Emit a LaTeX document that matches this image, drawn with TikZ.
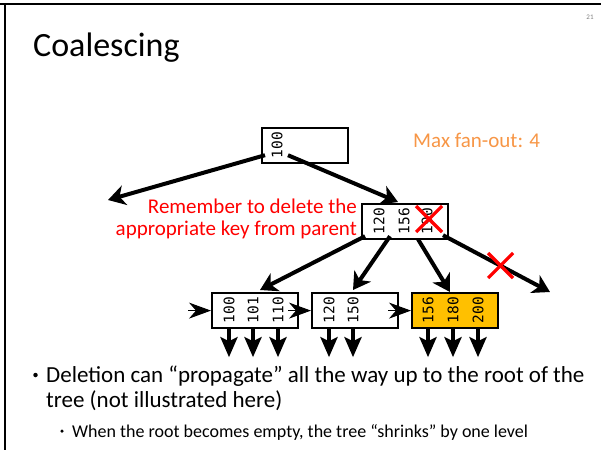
\documentclass[tikz,border=0pt]{standalone}
\usepackage{fontspec}
\setmainfont{Carlito}
\newfontfamily\keyfont{DejaVu Sans Mono}
\usetikzlibrary{arrows.meta,calc}
\definecolor{fanorange}{HTML}{F79646}
\definecolor{leafgold}{HTML}{FFC000}
\definecolor{xred}{HTML}{FF0000}
\begin{document}
\begin{tikzpicture}[x=1pt,y=-1pt,
  keybox/.style={draw, line width=2.2pt, minimum width=86pt, minimum height=35pt,
                 inner sep=0pt, anchor=north west},
  keytext/.style={rotate=90, font=\keyfont\fontsize{14.5}{14.5}\selectfont, inner sep=0pt},
  link/.style={line width=4pt, -{Stealth[length=17pt,width=20pt,inset=5pt]}},
  downlink/.style={line width=4pt, -{Stealth[length=20pt,width=17pt,inset=4pt]}},
  sidelink/.style={line width=1pt, -{Stealth[length=22pt,width=16pt,inset=7pt]}},
  cross/.style={xred, line width=3.2pt},
  body/.style={anchor=base west, inner sep=0pt, font=\fontsize{23}{23}\selectfont},
  subbody/.style={anchor=base west, inner sep=0pt, font=\fontsize{18}{18}\selectfont},
  dot/.style={circle, fill, inner sep=0pt}]
\useasboundingbox (0,0) rectangle (601,450);

% slide frame (top and left edges)
\draw[line width=2.5pt] (0,4) -- (601,4);
\draw[line width=2.5pt] (5,4) -- (5,450);

% title and slide number
\node[anchor=base west, font=\fontsize{34}{34}\selectfont, inner sep=0pt] (title) at (33,56) {Coalescing};
\node[font=\fontsize{7}{7}\selectfont, text=gray, inner sep=0pt] (pageno) at (590,17) {21};

% annotations
\node[anchor=west, font=\fontsize{21}{21}\selectfont, text=fanorange, inner sep=0pt] (fanout) at (413,140) {Max fan-out: 4};
\node[anchor=east, align=right, font=\fontsize{21}{22.5}\selectfont, text=xred, inner sep=0pt] (remember) at (357,219)
  {Remember to delete the\\appropriate key from parent};

% root
\node[keybox] (root) at (261,127) {};
\node[keytext] (r100) at (277,145) {100};

% inner node
\node[keybox] (mid) at (361,203) {};
\node[keytext] (m120) at (379,221) {120};
\node[keytext] (m156) at (404,221) {156};
\node[keytext] (m190) at (427,221) {190};

% leaves
\node[keybox] (leafA) at (211,292) {};
\node[keybox] (leafB) at (311,292) {};
\node[keybox, fill=leafgold] (leafC) at (411,292) {};
\node[keytext] (a100) at (229,310) {100};
\node[keytext] (a101) at (253,310) {101};
\node[keytext] (a110) at (278,310) {110};
\node[keytext] (b120) at (329,310) {120};
\node[keytext] (b150) at (353,310) {150};
\node[keytext] (c156) at (428,310) {156};
\node[keytext] (c180) at (453,310) {180};
\node[keytext] (c200) at (478,310) {200};

% loose arrow ends
\coordinate (leftend) at (108,200);
\coordinate (rightend) at (550,292);

% root pointers
\draw[link] ($(root.south west)+(4,-9)$) -- (leftend);
\draw[link] ($(root.south west)+(27,-9)$) -- ($(mid.north west)+(37,-1)$);

% inner node pointers
\draw[link] ($(mid.south west)+(4,-4)$) -- ($(leafA.north west)+(49,-2)$);
\draw[link] ($(mid.south west)+(29,-4)$) -- ($(leafB.north west)+(42,-2)$);
\draw[link] ($(mid.south west)+(57,-1)$) -- ($(leafC.north west)+(39,0)$);
\draw[link] ($(mid.south west)+(82,-5)$) -- (rightend);

% crossed-out key and pointer
\draw[cross] (416,206) -- (442,232);
\draw[cross] (416,232) -- (442,206);
\draw[cross] (488,253) -- (513,278);
\draw[cross] (488,278) -- (513,253);

% sibling links
\draw[sidelink] ($(leafA.west)+(-23,0)$) -- (leafA.west);
\draw[sidelink] ($(leafB.west)+(-23,0)$) -- (leafB.west);
\draw[sidelink] ($(leafC.west)+(-23,0)$) -- (leafC.west);

% child pointers of the leaves
\foreach \k in {a100,a101,a110,b120,b150,c156,c180,c200}{
  \draw[downlink] (\k |- leafA.south) -- ++(0,28);
}

% bullet text
\node[dot, minimum size=4.5pt] (bul1) at (35.5,375) {};
\node[body] (line1) at (46,382) {Deletion can “propagate” all the way up to the root of the};
\node[body] (line2) at (46,407) {tree (not illustrated here)};
\node[dot, minimum size=3.5pt] (bul2) at (62,431) {};
\node[subbody] (line3) at (72,437) {When the root becomes empty, the tree “shrinks” by one level};
\end{tikzpicture}
\end{document}
